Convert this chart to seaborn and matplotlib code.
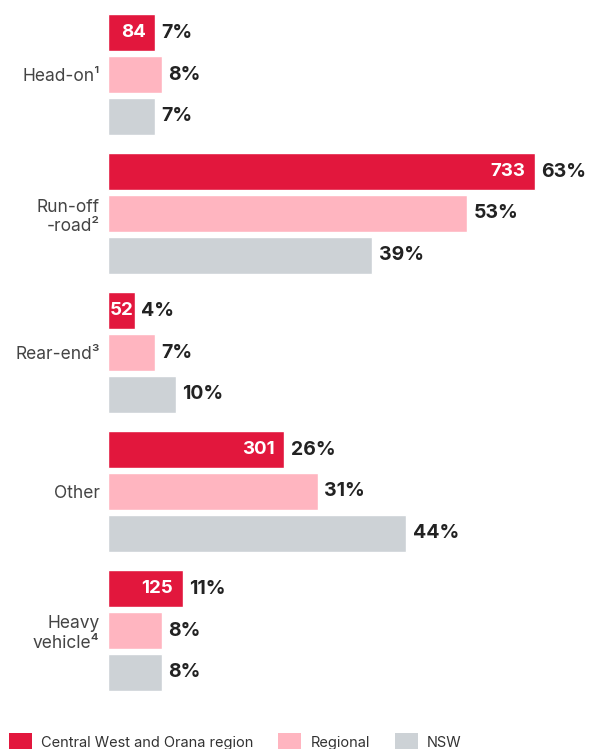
import matplotlib
matplotlib.use("Agg")
import matplotlib.pyplot as plt
from matplotlib.patches import Patch
import seaborn as sns
import pandas as pd

categories = ["Head-on¹", "Run-off\n-road²", "Rear-end³", "Other", "Heavy\nvehicle⁴"]
series = ["Central West and Orana region", "Regional", "NSW"]
cwo_pct = [7, 63, 4, 26, 11]
cwo_count = [84, 733, 52, 301, 125]
regional_pct = [8, 53, 7, 31, 8]
nsw_pct = [7, 39, 10, 44, 8]
colors = ["#E2173D", "#FFB5C0", "#CDD2D6"]

rows = []
for s, vals in zip(series, [cwo_pct, regional_pct, nsw_pct]):
    for c, v in zip(categories, vals):
        rows.append({"category": c, "series": s, "pct": v})
df = pd.DataFrame(rows)

sns.set_theme(style="white")
plt.rcParams["font.family"] = ["Inter", "DejaVu Sans"]

W, H = 589, 749
fig = plt.figure(figsize=(W / 100, H / 100), dpi=100)
unit = 139.0
top_px, bot_px = 0, 705
ax = fig.add_axes([108 / W, 1 - bot_px / H, (589 - 108) / W, (bot_px - top_px) / H])

sns.barplot(data=df, y="category", x="pct", hue="series", hue_order=series,
            order=categories, palette=colors, width=0.9, gap=0.11,
            saturation=1, orient="h", legend=False, ax=ax)

g0 = 74.5
ax.set_ylim((bot_px - g0) / unit, -(g0 - top_px) / unit)
ax.set_xlim(0, (589 - 108) / 6.78)
ax.set_xlabel("")
ax.set_ylabel("")
ax.set_xticks([])
for sp in ax.spines.values():
    sp.set_visible(False)
ax.tick_params(axis="y", length=0, pad=6)
for t in ax.get_yticklabels():
    t.set_fontsize(12.5)
    t.set_color("#444444")
    t.set_ha("right")
    t.set_multialignment("right")

for cont, vals in zip(ax.containers, [cwo_pct, regional_pct, nsw_pct]):
    ax.bar_label(cont, labels=[f"{v}%" for v in vals], padding=4.5,
                 fontsize=14, fontweight="bold", color="#222222")

for bar, n in zip(ax.containers[0], cwo_count):
    w = bar.get_width()
    yc = bar.get_y() + bar.get_height() / 2
    wpx = ax.transData.transform((w, 0))[0] - ax.transData.transform((0, 0))[0]
    off = -1.5 if wpx < 40 else -7
    ax.annotate(str(n), (w, yc), xytext=(off, 0), textcoords="offset points",
                ha="right", va="center", fontsize=13.5, fontweight="bold",
                color="white")

handles = [Patch(facecolor=c, edgecolor="none") for c in colors]
fs = 10.5
fpx = fs * 100 / 72
fig.legend(handles, series, loc="center left", bbox_to_anchor=(9 / W, 7 / H),
           ncol=3, frameon=False, fontsize=fs, borderpad=0, borderaxespad=0,
           handlelength=23 / fpx, handleheight=22 / fpx, handletextpad=9 / fpx,
           columnspacing=25 / fpx, labelcolor="#333333")

fig.savefig("out.png", dpi=100)
